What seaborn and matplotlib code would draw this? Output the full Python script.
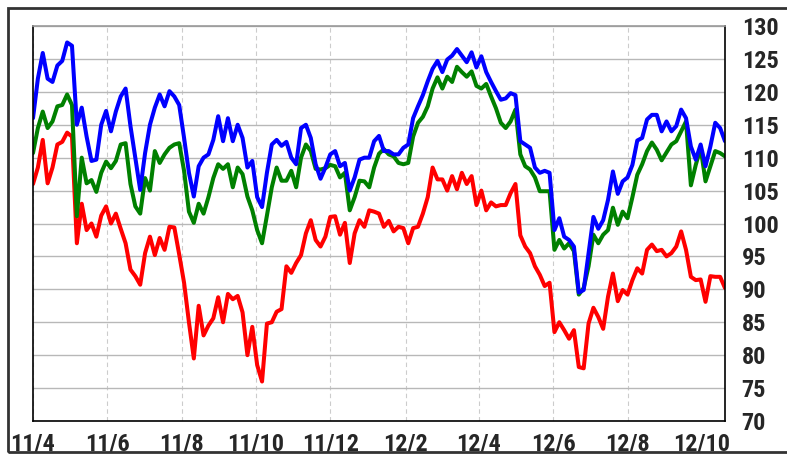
import pandas as pd
import matplotlib.pyplot as plt
from matplotlib.patches import Rectangle
import seaborn as sns

# data, one value every 4 days
dates = pd.date_range('2011-04-01', periods=143, freq='4D')

blue_vals = [116, 122, 125.9, 122, 121.5, 124, 124.7, 127.5, 127, 115, 117.6, 113.2, 109.5,
             109.7, 115, 117.1, 114, 117, 119.3, 120.5, 114.8, 110, 105.1, 110.7, 115, 117.6,
             119.6, 117.8, 120.1, 119.3, 118, 113, 107.7, 104.1, 108.7, 110, 110.5,
             112.7, 116.3, 112.5, 116, 112.5, 115, 113, 108.5, 109.5, 104, 102.5, 107.7,
             112, 112.7, 111.8, 112.4, 110, 109, 114.5, 115, 113, 109, 106.8, 108.5, 110.5,
             111, 108.7, 109.2, 105, 107, 109.7, 110, 110, 112.5, 113.3, 111,
             111, 110.5, 110.5, 111.5, 112, 116, 117.8, 119.5, 121.6, 123.5, 124.7, 123,
             124.9, 125.5, 126.5, 125.5, 124.5, 126, 123.7, 125.4, 123, 121.5, 120.1, 118.8,
             119, 119.8, 119.5, 112.5, 112, 111.5, 108.5, 107.7, 108, 107.7, 99, 100.8,
             98, 97.5, 96.5, 89.5, 89.9, 95.5, 101, 99.2, 100.5, 103.6, 107.9, 104.5,
             106.4, 107, 108.9, 112.6, 113, 115.8, 116.5, 116.5, 114, 115.5, 114, 114.8,
             117.3, 116, 111.7, 109.7, 112, 108.7, 111.7, 115.3, 114.5, 112.5]

green_vals = [110.7, 114.5, 117, 114.5, 115.5, 117.8, 118, 119.6, 118, 101.1, 110, 106.1, 106.6,
              104.8, 107.7, 109.4, 108.4, 109.5, 112, 112.2, 106, 102.6, 101.5, 106.9, 105, 111,
              109.2, 110.5, 111.5, 112, 112.2, 108, 101.8, 100.1, 103, 101.5, 104,
              106.9, 109, 108.3, 109, 105.5, 108.5, 107.5, 104.1, 102, 99, 97, 101.2,
              105.5, 108.5, 106.5, 106.5, 108, 105.5, 110, 112, 111, 108.3, 108.2, 108.4, 108.9,
              108.7, 107, 107.7, 102, 104, 106.5, 106.4, 105.5, 108.5, 110.6, 111.3,
              110.5, 110.2, 109.2, 109, 109.2, 113.2, 115.3, 116.2, 117.8, 120.5, 122.2, 120.5,
              122.3, 121.5, 123.8, 123, 122.3, 123.1, 120.9, 120.5, 121.2, 119.3, 117.5, 115.3,
              114.5, 115.5, 117.3, 110.5, 108.7, 108.2, 107, 104.9, 104.9, 104.9, 96, 97.5,
              96.2, 97, 95.8, 89.2, 90.2, 93.5, 98.3, 97, 98.3, 99, 102.4, 99.8,
              101.8, 100.8, 104, 107.4, 109, 111, 112.3, 111.2, 109.6, 110.8, 112, 112.5,
              114, 115.5, 105.8, 108.9, 111.5, 106.4, 108.7, 111, 110.7, 110.2]

red_vals = [106, 108.5, 112.7, 106.1, 108.5, 112, 112.4, 113.8, 113.2, 97, 103, 99, 100,
            98, 101.2, 102.6, 100, 101.5, 99.2, 97, 93, 92, 90.7, 95.5, 98, 95.2,
            97.8, 96, 99.5, 99.4, 95.3, 91, 85, 79.5, 87.5, 83, 84.5,
            85.6, 88.8, 85, 89.3, 88.5, 89, 86.5, 80, 84.3, 78.5, 76, 84.8,
            85, 86.6, 87, 93.5, 92.5, 94, 95.2, 98.5, 100.5, 97.5, 96.5, 98, 101,
            101.1, 98.3, 100.1, 94, 98.5, 100.5, 99.5, 102, 101.8, 101.5, 99.5,
            100.4, 98.8, 99.5, 99.3, 97, 99.3, 99.5, 101.5, 104, 108.5, 106.7, 106.7,
            105, 107.2, 105.2, 107.7, 106, 107.2, 102.8, 105, 102, 103.2, 102.6, 102.8,
            102.8, 104.6, 106, 98.2, 96.5, 95.5, 93.5, 92.2, 90.5, 91, 83.5, 85,
            83.8, 82.5, 83.8, 78.2, 78, 84.8, 87.2, 85.8, 84, 88.9, 92.4, 88.2,
            89.9, 89.2, 91.4, 93.2, 92.4, 96, 96.8, 95.8, 96, 95, 95.5, 96.5,
            98.8, 96, 91.9, 91.4, 91.5, 88.1, 92, 91.9, 91.9, 90.2]

tick_dates = pd.to_datetime(['2011-04-01', '2011-06-01', '2011-08-01', '2011-10-01', '2011-12-01',
                             '2012-02-01', '2012-04-01', '2012-06-01', '2012-08-01', '2012-10-01'])
tick_labels = ['11/4', '11/6', '11/8', '11/10', '11/12', '12/2', '12/4', '12/6', '12/8', '12/10']
y_ticks = list(range(70, 131, 5))

df = pd.DataFrame({'date': dates, 'blue': blue_vals, 'green': green_vals, 'red': red_vals})
df = df.melt(id_vars='date', var_name='series', value_name='value')

sns.set_style('white')
# narrow fonts first, whichever is installed gets used
plt.rcParams['font.family'] = ['Liberation Sans Narrow', 'Roboto Condensed', 'DejaVu Sans Condensed',
                               'Roboto', 'DejaVu Sans']

fig = plt.figure(figsize=(7.87, 4.54), dpi=100)
ax = fig.add_axes([33 / 787, 33 / 454, 692 / 787, 395 / 454])

sns.lineplot(data=df, x='date', y='value', hue='series',
             hue_order=['red', 'green', 'blue'],
             palette={'blue': '#0000ff', 'green': '#008000', 'red': '#ff0000'},
             linewidth=2.9, legend=False, ax=ax)

ax.set_xlim(dates[0], dates[-1])
ax.set_ylim(70, 130)
ax.set_xticks(tick_dates)
ax.set_xticklabels(tick_labels)
ax.set_yticks(y_ticks)
ax.yaxis.tick_right()
ax.set_xlabel('')
ax.set_ylabel('')
ax.tick_params(axis='both', length=0, labelsize=17.5)
ax.tick_params(axis='y', pad=12)
ax.tick_params(axis='x', pad=8)
for lbl in ax.get_xticklabels() + ax.get_yticklabels():
    lbl.set_fontweight('heavy')

ax.grid(axis='y', color='#b8b8b8', linewidth=1)
ax.grid(axis='x', color='#cccccc', linewidth=0.8, linestyle=(0, (4, 3)))
ax.xaxis.get_gridlines()[-1].set_visible(False)

for side in ['left', 'bottom', 'right']:
    ax.spines[side].set_color('black')
    ax.spines[side].set_linewidth(1.2)
ax.spines['top'].set_color('#999999')
ax.spines['top'].set_linewidth(1.2)

# outer frame round the picture
fig.patches.append(Rectangle((8 / 787, 2 / 454), 1.0, 444 / 454, transform=fig.transFigure,
                             fill=False, edgecolor='#333333', linewidth=2))

fig.savefig('out.png', dpi=100)
plt.close()
